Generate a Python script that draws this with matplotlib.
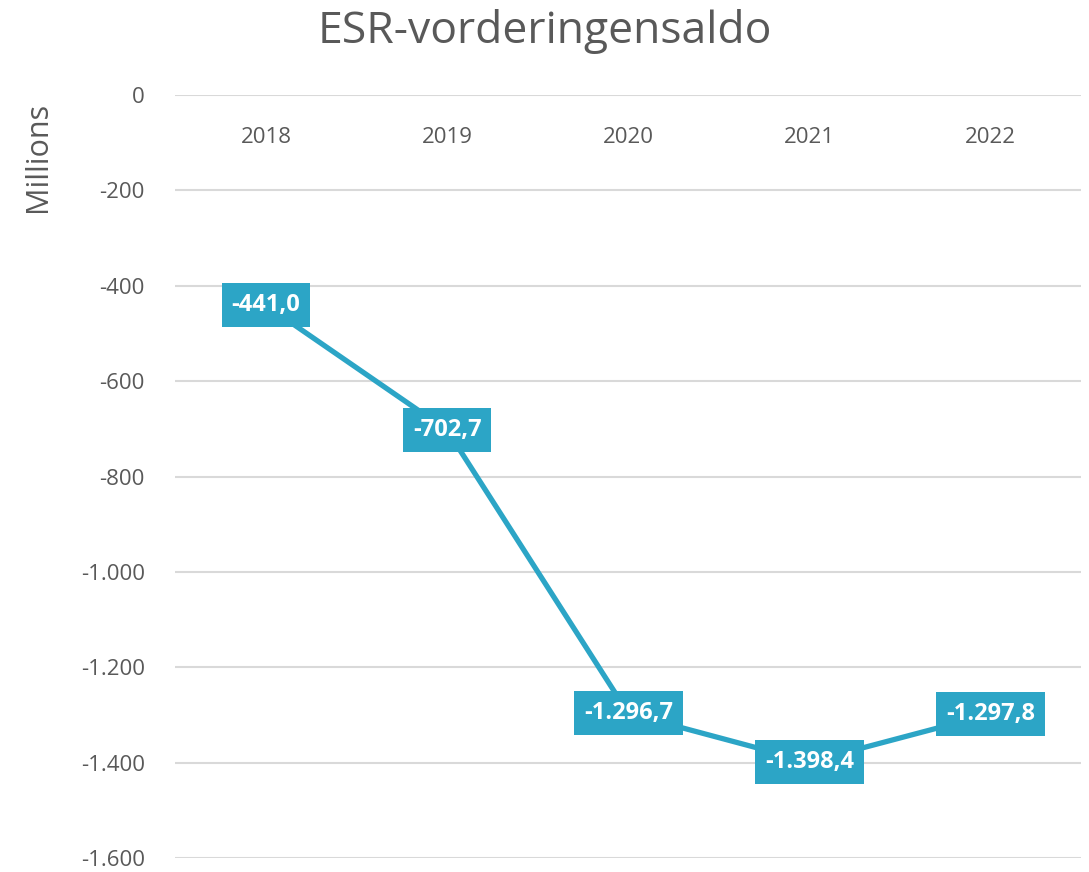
import matplotlib
matplotlib.use("Agg")
import matplotlib.pyplot as plt
from matplotlib.ticker import FuncFormatter

plt.rcParams['font.family'] = ['Open Sans', 'DejaVu Sans']

# data
years = ['2018', '2019', '2020', '2021', '2022']
saldo = [-441.0, -702.7, -1296.7, -1398.4, -1297.8]
yticks = [0, -200, -400, -600, -800, -1000, -1200, -1400, -1600]

blue = '#2CA5C6'
grey = '#595959'


def nl(v, dec=0):
    s = f"{v:,.{dec}f}"
    return s.replace(',', 'X').replace('.', ',').replace('X', '.')


fig = plt.figure(figsize=(10.89, 8.72), dpi=100)
ax = fig.add_axes([0.161, 0.016, 0.832, 0.875])

x = list(range(len(years)))
ax.plot(x, saldo, color=blue, lw=3.8, solid_capstyle='butt', zorder=3)

for xi, v in zip(x, saldo):
    ax.text(xi, v, nl(v, 1), ha='center', va='center', color='white',
            fontsize=17, fontweight='bold', zorder=4,
            bbox=dict(boxstyle='square,pad=0.42', fc=blue, ec='none'))

# year labels sit just below the zero line
for xi, yr in zip(x, years):
    ax.text(xi, -90, yr, ha='center', va='center', color=grey, fontsize=16)

ax.set_xlim(-0.5, len(years) - 0.5)
ax.set_ylim(-1600, 0)
ax.set_yticks(yticks)
ax.yaxis.set_major_formatter(FuncFormatter(lambda v, p: nl(v)))
ax.set_xticks([])
ax.tick_params(axis='y', length=0, pad=22, labelsize=16, labelcolor=grey)
ax.grid(axis='y', color='#D9D9D9', lw=1.5)
ax.set_axisbelow(True)
for s in ax.spines.values():
    s.set_visible(False)

fig.text(0.035, 0.82, 'Millions', rotation=90, ha='center', va='center',
         color=grey, fontsize=22)
fig.suptitle('ESR-vorderingensaldo', x=0.5, y=0.964, va='center',
             color=grey, fontsize=32)

fig.savefig('out.png', dpi=100)
